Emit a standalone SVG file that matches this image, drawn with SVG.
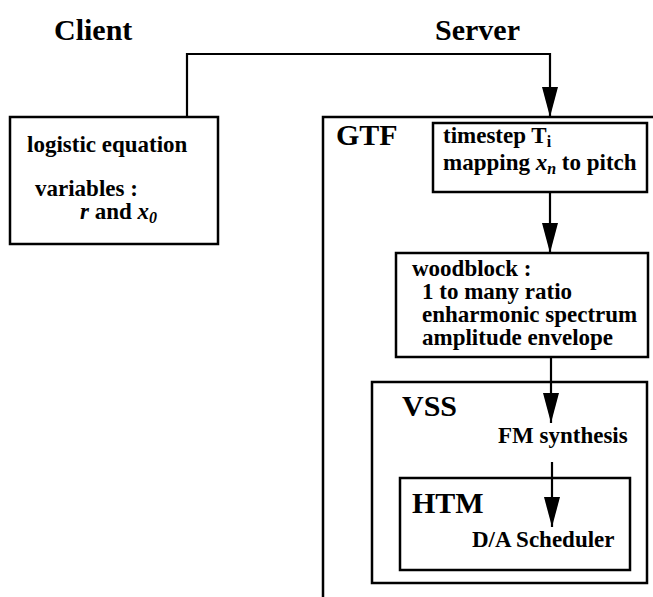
<svg xmlns="http://www.w3.org/2000/svg" width="653" height="597" viewBox="0 0 653 597">
<defs>
<style>
text{font-family:"Liberation Serif","Times New Roman",serif;font-weight:bold;fill:#000}
.h{font-size:30px}
.t{font-size:23px}
.box{fill:none;stroke:#000;stroke-width:2.5}
.ln{fill:none;stroke:#000;stroke-width:2.2}
.it{font-style:italic}
</style>
<marker id="ah" markerUnits="userSpaceOnUse" markerWidth="30" markerHeight="16" refX="30" refY="8" orient="auto">
<path d="M0,0 L30,8 L0,16 z" fill="#000"/>
</marker>
</defs>
<rect width="653" height="597" fill="#fff"/>
<text class="h" x="54" y="40">Client</text>
<text class="h" x="435" y="40">Server</text>
<g id="client">
<rect class="box" x="10" y="117" width="208" height="127"/>
<text class="t" x="27" y="152">logistic equation</text>
<text class="t" x="35" y="196">variables :</text>
<text class="t" x="80" y="219"><tspan class="it">r</tspan> and <tspan class="it">x</tspan><tspan class="it" font-size="16" dy="4">0</tspan></text>
</g>
<g id="gtf">
<path class="box" d="M323,597 L323,117 L653,117"/>
<text class="h" x="336" y="145">GTF</text>
</g>
<g id="timestep">
<rect class="box" x="433" y="123" width="214" height="69"/>
<text class="t" x="443" y="143">timestep T<tspan font-size="16" dy="4">i</tspan></text>
<text class="t" x="443" y="170">mapping <tspan class="it">x</tspan><tspan class="it" font-size="16" dy="4">n</tspan><tspan dy="-4"> to pitch</tspan></text>
</g>
<g id="woodblock">
<rect class="box" x="396" y="253" width="252" height="104"/>
<text class="t" x="412" y="276">woodblock :</text>
<text class="t" x="422" y="299">1 to many ratio</text>
<text class="t" x="422" y="322">enharmonic spectrum</text>
<text class="t" x="422" y="345">amplitude envelope</text>
</g>
<g id="vss">
<rect class="box" x="372" y="382" width="275" height="201"/>
<text class="h" x="402" y="416">VSS</text>
<text class="t" x="498" y="443">FM synthesis</text>
</g>
<g id="htm">
<rect class="box" x="400" y="478" width="230" height="92"/>
<text class="h" x="412" y="513">HTM</text>
<text class="t" x="472" y="547">D/A Scheduler</text>
</g>
<g id="connectors">
<path class="ln" d="M187,117 L187,54 L550,54 L550,117" marker-end="url(#ah)"/>
<path class="ln" d="M550,192 L550,253" marker-end="url(#ah)"/>
<path class="ln" d="M551,357 L551,423" marker-end="url(#ah)"/>
<path class="ln" d="M552,462 L552,527" marker-end="url(#ah)"/>
</g>
</svg>
